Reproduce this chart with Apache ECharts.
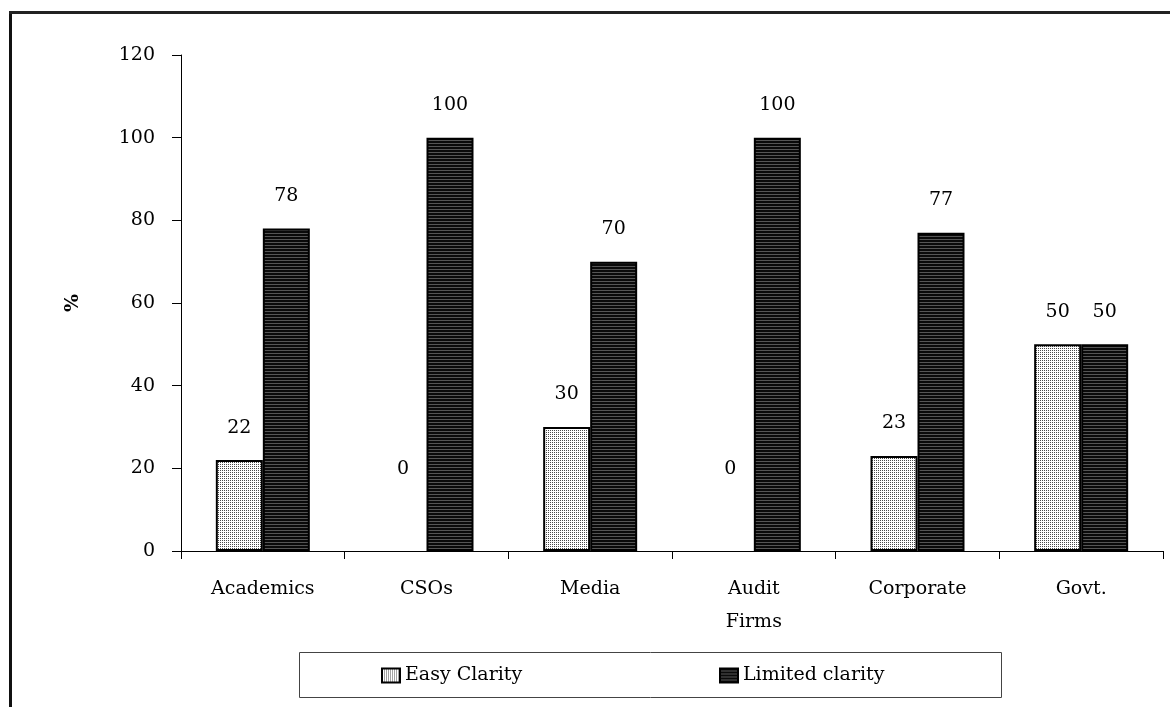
<!DOCTYPE html>
<html>
<head>
<meta charset="utf-8">
<script src="https://cdn.jsdelivr.net/npm/echarts@6/dist/echarts.min.js"></script>
<style>
html,body{margin:0;padding:0;background:#fff;}
#chart{width:1170px;height:707px;}
</style>
</head>
<body>
<div id="chart"></div>
<script>
var categories = ['Academics', 'CSOs', 'Media', 'Audit\nFirms', 'Corporate', 'Govt.'];
var easyClarity = [22, 0, 30, 0, 23, 50];
var limitedClarity = [78, 100, 70, 100, 77, 50];
var seriesNames = ['Easy Clarity', 'Limited clarity'];
var yTicks = {min: 0, max: 120, interval: 20};

function makePattern(w, h, bg, pixels) {
  var c = document.createElement('canvas');
  c.width = w; c.height = h;
  var ctx = c.getContext('2d');
  ctx.fillStyle = bg; ctx.fillRect(0, 0, w, h);
  pixels.forEach(function (p) { ctx.fillStyle = p[2]; ctx.fillRect(p[0], p[1], 1, 1); });
  return c;
}
var dotCanvas = makePattern(2, 2, '#ffffff', [[0, 0, '#4a4a4a']]);
var stripeCanvas = makePattern(1, 3, '#0a0a0a', [[0, 2, '#555555']]);

var FONT = 'DejaVu Serif';
var FS = 19;
function zeroAware(arr) {
  return arr.map(function (v) {
    return v === 0 ? {value: v, label: {distance: 72}, itemStyle: {borderWidth: 0}} : v;
  });
}

var chart = echarts.init(document.getElementById('chart'), null, {renderer: 'canvas'});
chart.setOption({
  animation: false,
  backgroundColor: '#ffffff',
  textStyle: {fontFamily: FONT, color: '#000'},
  grid: {left: 181, right: 7, top: 55, bottom: 156, containLabel: false},
  legend: [
    {data: [seriesNames[0]], left: 376, top: 661, itemWidth: 18, itemHeight: 14, icon: 'rect',
     textStyle: {fontFamily: FONT, fontSize: FS, color: '#000'}},
    {data: [seriesNames[1]], left: 714, top: 661, itemWidth: 18, itemHeight: 14, icon: 'rect',
     textStyle: {fontFamily: FONT, fontSize: FS, color: '#000'}}
  ],
  xAxis: {
    type: 'category',
    data: categories,
    axisLine: {lineStyle: {color: '#000', width: 1}},
    axisTick: {show: true, length: 8, lineStyle: {color: '#000'}},
    axisLabel: {color: '#000', fontFamily: FONT, fontSize: FS, margin: 22, lineHeight: 33, interval: 0}
  },
  yAxis: {
    type: 'value',
    min: yTicks.min, max: yTicks.max, interval: yTicks.interval,
    name: '%', nameLocation: 'middle', nameGap: 98, nameRotate: 90,
    nameTextStyle: {fontFamily: FONT, fontSize: FS, fontWeight: 'bold', color: '#000'},
    axisLine: {show: true, lineStyle: {color: '#000', width: 1}},
    axisTick: {show: true, length: 9, lineStyle: {color: '#000'}},
    splitLine: {show: false},
    axisLabel: {color: '#000', fontFamily: FONT, fontSize: FS, margin: 26}
  },
  series: [
    {
      name: seriesNames[0], type: 'bar', data: zeroAware(easyClarity),
      barWidth: 47, barGap: '0%',
      itemStyle: {color: {image: dotCanvas, repeat: 'repeat'}, borderColor: '#000', borderWidth: 2},
      label: {show: true, position: 'top', distance: 23, color: '#000', fontFamily: FONT, fontSize: FS}
    },
    {
      name: seriesNames[1], type: 'bar', data: limitedClarity,
      barWidth: 47, barGap: '0%',
      itemStyle: {color: {image: stripeCanvas, repeat: 'repeat'}, borderColor: '#000', borderWidth: 2},
      label: {show: true, position: 'top', distance: 23, color: '#000', fontFamily: FONT, fontSize: FS}
    }
  ],
  graphic: [
    {type: 'line', shape: {x1: 10.5, y1: 12, x2: 10.5, y2: 707}, style: {stroke: '#111', lineWidth: 3}},
    {type: 'line', shape: {x1: 9, y1: 12.5, x2: 1170, y2: 12.5}, style: {stroke: '#222', lineWidth: 3}},
    {type: 'rect', shape: {x: 299.5, y: 652.5, width: 702, height: 45}, style: {fill: 'none', stroke: '#444', lineWidth: 1}, z: -1}
  ]
});
</script>
</body>
</html>
